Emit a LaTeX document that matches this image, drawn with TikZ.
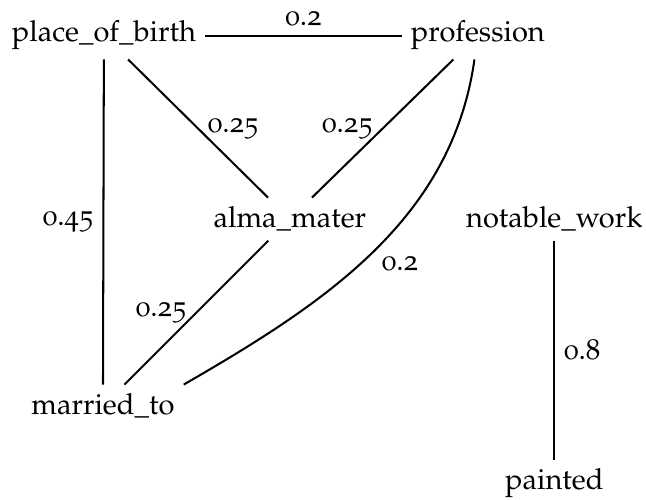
\documentclass[tikz,border=0pt]{standalone}
\usepackage[T1]{fontenc}
\usepackage[osf]{mathpazo}
\usepackage{tikz}
\usetikzlibrary{positioning}

\begin{document}
\begin{tikzpicture}[
  rel/.style={anchor=base, inner sep=3pt},
  link/.style={line width=0.7pt},
  weight/.style={inner sep=3pt}
]
\useasboundingbox (0,0) rectangle (7.82,-6.05);
\node[rel] (birth) at (1.258,-0.508) {place\_of\_birth};
\node[rel] (profession) at (5.784,-0.508) {profession};
\node[rel] (alma) at (3.509,-2.759) {alma\_mater};
\node[rel] (notable) at (6.71,-2.759) {notable\_work};
\node[rel] (married) at (1.246,-5.022) {married\_to};
\node[rel] (painted) at (6.71,-5.929) {painted};
\draw[link] (birth) -- node[weight,above]{0.2} (profession);
\draw[link] (birth) -- node[weight,anchor=west]{0.25} (alma);
\draw[link] (profession) -- node[weight,anchor=east]{0.25} (alma);
\draw[link] (birth) -- node[weight,left]{0.45} (married);
\draw[link] (alma) -- node[weight,anchor=east]{0.25} (married);
\draw[link] (profession) to[out=-98,in=30,looseness=0.95]
  node[weight,pos=0.54,anchor=west,xshift=4pt]{0.2} (married.north east);
\draw[link] (notable) -- node[weight,right]{0.8} (painted);
\end{tikzpicture}
\end{document}
